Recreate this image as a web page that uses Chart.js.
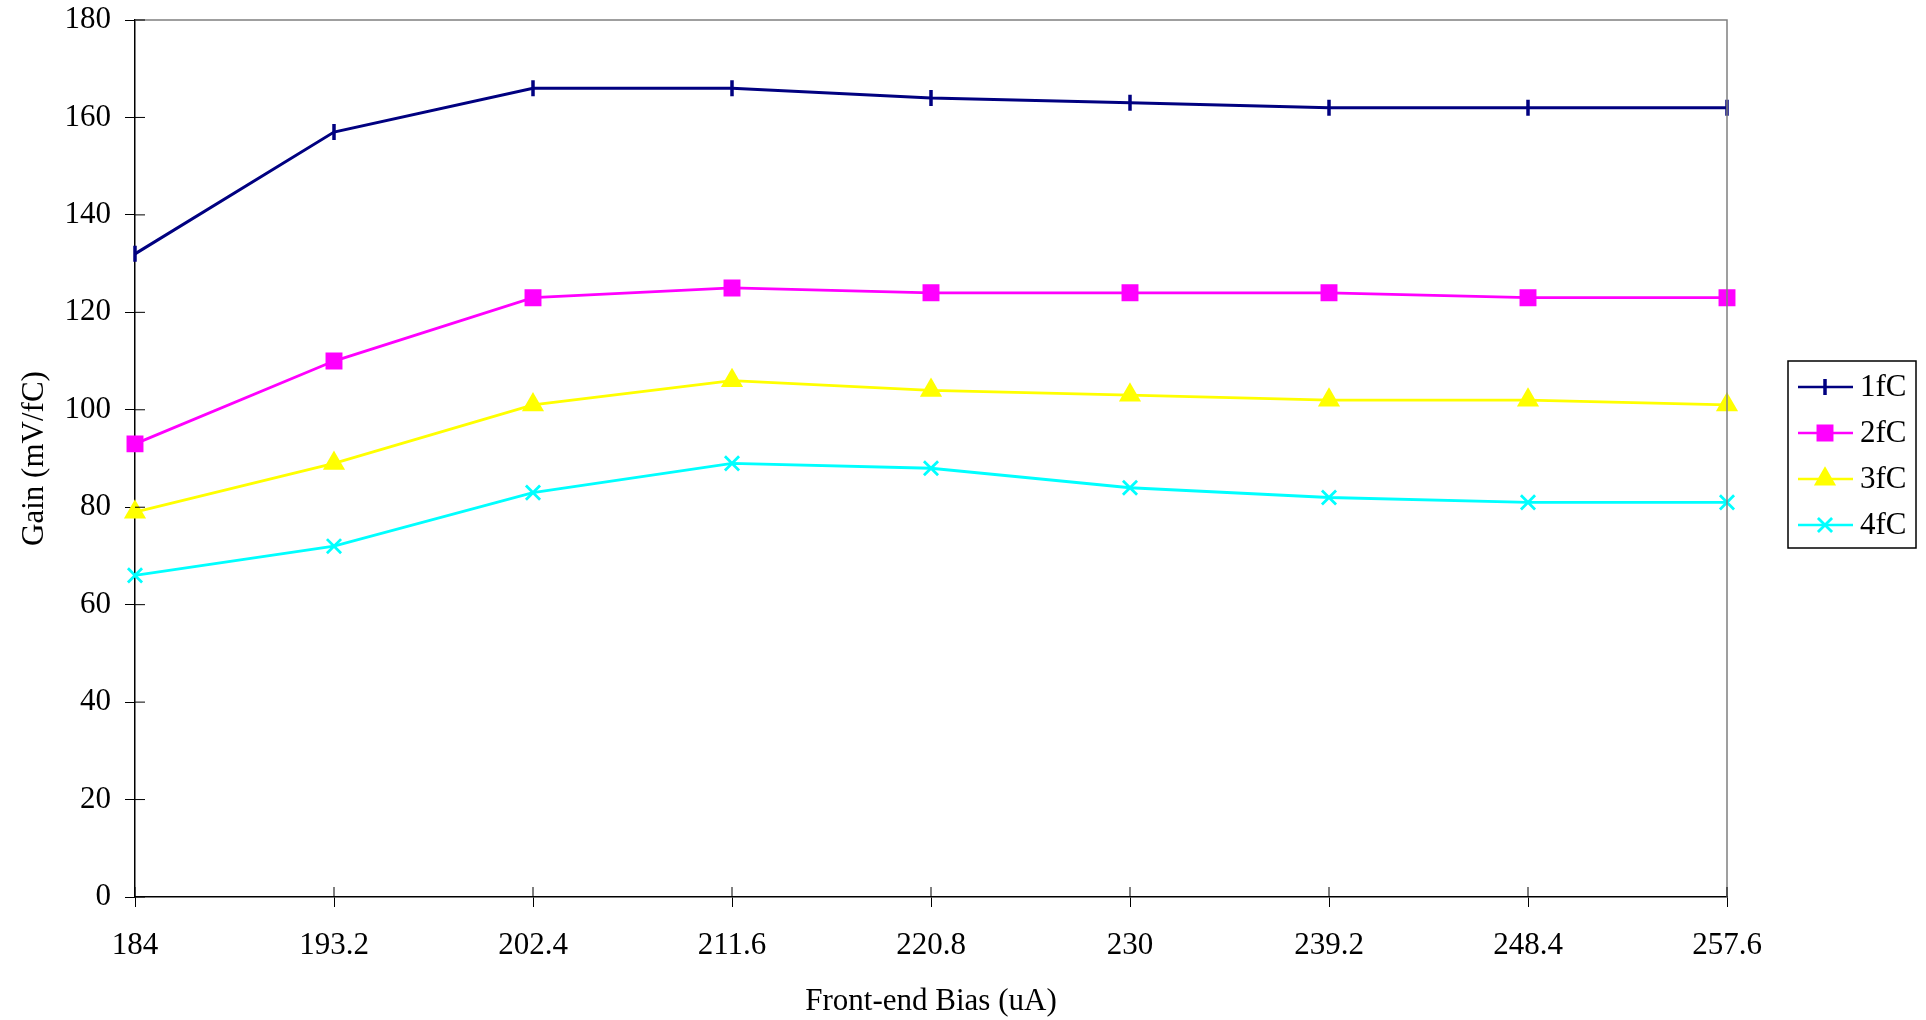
<!DOCTYPE html>
<html lang="en">
<head>
  <meta charset="UTF-8" />
  <title>Gain vs Front-end Bias</title>
  <script src="https://cdn.jsdelivr.net/npm/chart.js"></script>
  <style>
    body {
      margin: 0;
      background: #fff;
    }
    #wrap {
      width: 1926px;
      height: 1020px;
    }
  </style>
</head>
<body>
  <div id="wrap"><canvas id="gainChart"></canvas></div>

  <script>
    // front-end bias (uA)
    const biasLabels = ["184", "193.2", "202.4", "211.6", "220.8", "230", "239.2", "248.4", "257.6"];
    // gain (mV/fC) per charge
    const gain1fC = [132, 157, 166, 166, 164, 163, 162, 162, 162];
    const gain2fC = [93, 110, 123, 125, 124, 124, 124, 123, 123];
    const gain3fC = [79, 89, 101, 106, 104, 103, 102, 102, 101];
    const gain4fC = [66, 72, 83, 89, 88, 84, 82, 81, 81];
    const yTicks = [0, 20, 40, 60, 80, 100, 120, 140, 160, 180];

    const font = { family: "'Liberation Serif', 'Times New Roman', serif", size: 31 };

    // ticks that cross the axis line, frame top/right in grey
    const framePlugin = {
      id: "frame",
      afterDatasetsDraw(chart) {
        const { ctx, chartArea: a, scales } = chart;
        ctx.save();
        ctx.strokeStyle = "#808080";
        ctx.lineWidth = 1.5;
        ctx.beginPath();
        ctx.moveTo(a.left, a.top);
        ctx.lineTo(a.right, a.top);
        ctx.lineTo(a.right, a.bottom);
        ctx.stroke();
        ctx.strokeStyle = "#000";
        ctx.lineWidth = 1;
        ctx.beginPath();
        scales.y.ticks.forEach((t, i) => {
          const y = scales.y.getPixelForTick(i);
          ctx.moveTo(a.left, y);
          ctx.lineTo(a.left + 10, y);
        });
        scales.x.ticks.forEach((t, i) => {
          const x = scales.x.getPixelForTick(i);
          ctx.moveTo(x, a.bottom);
          ctx.lineTo(x, a.bottom - 10);
        });
        ctx.stroke();
        ctx.restore();
      },
    };

    // boxed legend on the right
    const legendPlugin = {
      id: "boxLegend",
      afterDraw(chart) {
        const { ctx, chartArea: a } = chart;
        const x0 = a.right + 61;
        const y0 = 361;
        ctx.save();
        ctx.fillStyle = "#fff";
        ctx.fillRect(x0, y0, 128, 187);
        ctx.strokeStyle = "#000";
        ctx.lineWidth = 1.5;
        ctx.strokeRect(x0, y0, 128, 187);
        chart.data.datasets.forEach((ds, i) => {
          const y = y0 + 26 + i * 46;
          ctx.strokeStyle = ds.borderColor;
          ctx.lineWidth = 2.5;
          ctx.beginPath();
          ctx.moveTo(x0 + 10, y);
          ctx.lineTo(x0 + 65, y);
          ctx.stroke();
          ctx.fillStyle = ds.pointBackgroundColor;
          ctx.strokeStyle = ds.pointBorderColor;
          ctx.lineWidth = ds.pointBorderWidth;
          Chart.helpers.drawPoint(ctx, {
            pointStyle: ds.pointStyle,
            rotation: ds.pointRotation || 0,
            radius: ds.pointRadius,
            borderWidth: ds.pointBorderWidth,
          }, x0 + 37, y);
          ctx.fillStyle = "#000";
          ctx.font = font.size + "px " + font.family;
          ctx.textBaseline = "middle";
          ctx.textAlign = "left";
          ctx.fillText(ds.label, x0 + 72, y + 1);
        });
        ctx.restore();
      },
    };

    function series(label, data, color, style, radius, extra) {
      return Object.assign({
        label: label,
        data: data,
        borderColor: color,
        borderWidth: 2.8,
        pointStyle: style,
        pointRadius: radius,
        pointHoverRadius: radius,
        pointBackgroundColor: color,
        pointBorderColor: color,
        pointBorderWidth: 2.8,
        tension: 0,
      }, extra || {});
    }

    const chart = new Chart(document.getElementById("gainChart"), {
      type: "line",
      data: {
        labels: biasLabels,
        datasets: [
          series("1fC", gain1fC, "#000080", "line", 8, { borderWidth: 3, pointRotation: 90, pointBorderWidth: 3.5 }),
          series("2fC", gain2fC, "#ff00ff", "rect", 10),
          series("3fC", gain3fC, "#ffff00", "triangle", 10),
          series("4fC", gain4fC, "#00ffff", "crossRot", 10),
        ],
      },
      options: {
        responsive: true,
        maintainAspectRatio: false,
        animation: false,
        layout: { padding: { top: 20, right: 199, left: 0, bottom: 0 } },
        plugins: {
          legend: { display: false },
          tooltip: { enabled: false },
        },
        scales: {
          x: {
            offset: false,
            grid: { drawOnChartArea: false, drawTicks: true, tickLength: 10, color: "#000" },
            border: { display: true, color: "#000", width: 1.5 },
            ticks: { color: "#000", font: font, padding: 20, maxRotation: 0 },
            title: { display: true, text: "Front-end Bias (uA)", color: "#000", font: font, padding: { top: 14, bottom: 0 } },
            afterFit(scale) { scale.height = 123; },
          },
          y: {
            min: yTicks[0],
            max: yTicks[yTicks.length - 1],
            afterBuildTicks(scale) { scale.ticks = yTicks.map(v => ({ value: v })); },
            grid: { drawOnChartArea: false, drawTicks: true, tickLength: 10, color: "#000" },
            border: { display: true, color: "#000", width: 1.5 },
            ticks: { color: "#000", font: font, padding: 14 },
            title: { display: true, text: "Gain (mV/fC)", color: "#000", font: font, padding: { top: 16, bottom: 0 } },
            afterFit(scale) {
              scale.width = 135;
              scale.paddingTop = 0;
              scale.paddingBottom = 0;
            },
          },
        },
      },
      plugins: [framePlugin, legendPlugin],
    });
  </script>
</body>
</html>
